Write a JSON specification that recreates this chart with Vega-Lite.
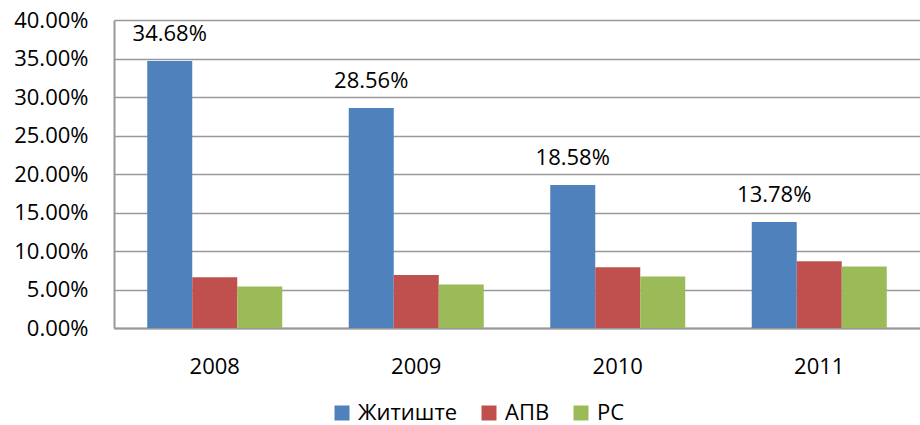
{
  "$schema": "https://vega.github.io/schema/vega-lite/v6.json",
  "width": 806,
  "height": 308,
  "autosize": {"type": "none"},
  "padding": {"left": 114, "top": 20, "right": 0, "bottom": 97},
  "background": "white",
  "config": {
    "view": {"stroke": null},
    "font": "Open Sans",
    "axis": {"labelFont": "Open Sans", "labelFontSize": 22, "labelColor": "#000000"},
    "legend": {"labelFont": "Open Sans", "labelFontSize": 22, "labelColor": "#000000"}
  },
  "data": {
    "values": [
      {"year": "2008", "series": "Житиште", "value": 0.3468, "label": "34.68%"},
      {"year": "2008", "series": "АПВ", "value": 0.0658, "label": ""},
      {"year": "2008", "series": "РС", "value": 0.054, "label": ""},
      {"year": "2009", "series": "Житиште", "value": 0.2856, "label": "28.56%"},
      {"year": "2009", "series": "АПВ", "value": 0.0688, "label": ""},
      {"year": "2009", "series": "РС", "value": 0.0566, "label": ""},
      {"year": "2010", "series": "Житиште", "value": 0.1858, "label": "18.58%"},
      {"year": "2010", "series": "АПВ", "value": 0.0788, "label": ""},
      {"year": "2010", "series": "РС", "value": 0.067, "label": ""},
      {"year": "2011", "series": "Житиште", "value": 0.1378, "label": "13.78%"},
      {"year": "2011", "series": "АПВ", "value": 0.0866, "label": ""},
      {"year": "2011", "series": "РС", "value": 0.08, "label": ""}
    ]
  },
  "encoding": {
    "x": {
      "field": "year", "type": "nominal", "title": null,
      "scale": {"paddingInner": 0.33, "paddingOuter": 0.165},
      "axis": {"labelAngle": 0, "ticks": false, "domainColor": "#999999", "domainWidth": 2, "labelPadding": 28, "labelBaseline": "top"}
    },
    "xOffset": {
      "field": "series", "type": "nominal",
      "scale": {"domain": ["Житиште", "АПВ", "РС"], "paddingInner": 0, "paddingOuter": 0}
    },
    "y": {
      "field": "value", "type": "quantitative", "title": null,
      "scale": {"domain": [0, 0.4], "nice": false},
      "axis": {"format": ".2%", "values": [0, 0.05, 0.1, 0.15, 0.2, 0.25, 0.3, 0.35, 0.4], "ticks": false, "domainColor": "#999999", "domainWidth": 2, "gridColor": "#999999", "gridWidth": 1.5, "labelPadding": 26}
    }
  },
  "layer": [
    {
      "mark": {"type": "bar"},
      "encoding": {
        "color": {
          "field": "series", "type": "nominal",
          "scale": {"domain": ["Житиште", "АПВ", "РС"], "range": ["#4F81BD", "#C0504D", "#9BBB59"]},
          "legend": {"title": null, "orient": "none", "direction": "horizontal", "legendX": 217, "legendY": 382, "symbolType": "square", "symbolSize": 225, "symbolStrokeWidth": 0, "labelOffset": 5, "columnPadding": 20}
        }
      }
    },
    {
      "mark": {"type": "text", "baseline": "alphabetic", "dy": -20, "fontSize": 22, "font": "Open Sans", "color": "#000000"},
      "encoding": {"text": {"field": "label"}}
    }
  ]
}
